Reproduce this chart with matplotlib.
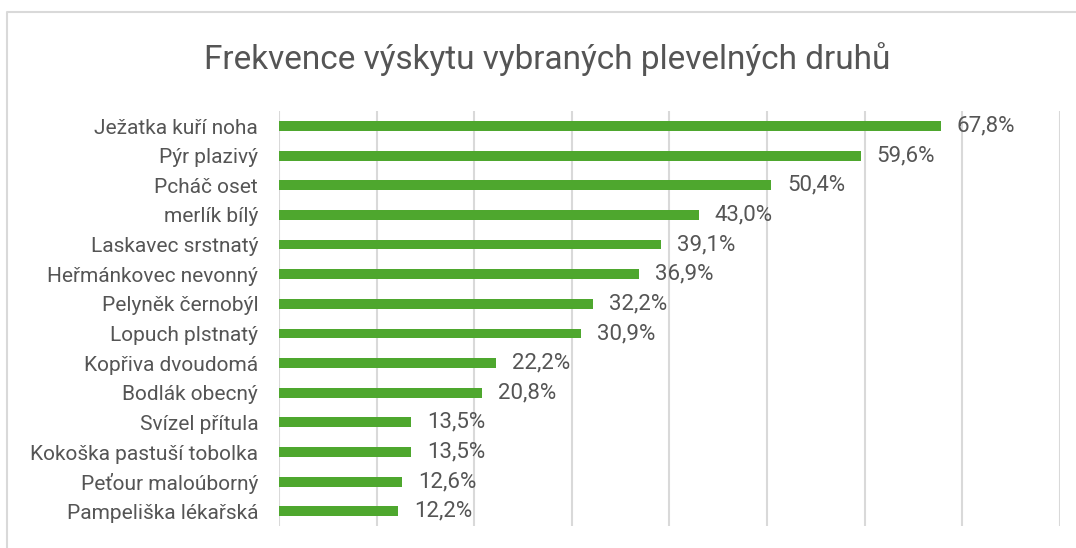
import matplotlib
matplotlib.use("Agg")
import matplotlib.pyplot as plt
from matplotlib.lines import Line2D

plt.rcParams.update({
    "font.family": ["Roboto", "DejaVu Sans"],
})

# ── data ──────────────────────────────────────────────────────────────────────
SPECIES = [
    "Ježatka kuří noha", "Pýr plazivý", "Pcháč oset", "merlík bílý",
    "Laskavec srstnatý", "Heřmánkovec nevonný", "Pelyněk černobýl",
    "Lopuch plstnatý", "Kopřiva dvoudomá", "Bodlák obecný", "Svízel přítula",
    "Kokoška pastuší tobolka", "Peťour maloúborný", "Pampeliška lékařská",
]
FREQ = [67.8, 59.6, 50.4, 43.0, 39.1, 36.9, 32.2, 30.9, 22.2, 20.8,
        13.5, 13.5, 12.6, 12.2]
TITLE = "Frekvence výskytu vybraných plevelných druhů"

GREEN = "#4ea72e"
TEXT = "#555555"
GRID = "#d9d9d9"

fig = plt.figure(figsize=(10.76, 5.48), dpi=100)
ax = fig.add_axes([0.2593, 0.040, 0.7257, 0.757])

y = list(range(len(SPECIES)))
ax.barh(y, FREQ, height=0.33, color=GREEN, zorder=3)
for yi, v in zip(y, FREQ):
    ax.annotate(f"{v:.1f}%".replace(".", ","), (v, yi), xytext=(16, 0),
                textcoords="offset pixels",
                va="center", ha="left", fontsize=16, color=TEXT)

ax.set_xlim(0, 80)
ax.set_ylim(len(SPECIES) - 0.5, -0.5)
ax.set_xticks(range(0, 81, 10))
ax.set_xticklabels([])
ax.tick_params(axis="x", length=0)
ax.set_yticks(y)
ax.set_yticklabels(SPECIES, fontsize=15, color=TEXT)
ax.tick_params(axis="y", length=0, pad=15)
ax.xaxis.grid(True, color=GRID, lw=1.5, zorder=0)
for s in ax.spines.values():
    s.set_visible(False)

fig.text(0.509, 0.893, TITLE, ha="center", va="center", fontsize=24,
         color=TEXT)

# chart-area frame (only left and top edges visible)
fx, fy = 7 / 1076, 1 - 12 / 548
fig.add_artist(Line2D([fx, fx, 1], [0, fy, fy], transform=fig.transFigure,
                      color=GRID, lw=1.5))

fig.savefig("out.png", dpi=100)
